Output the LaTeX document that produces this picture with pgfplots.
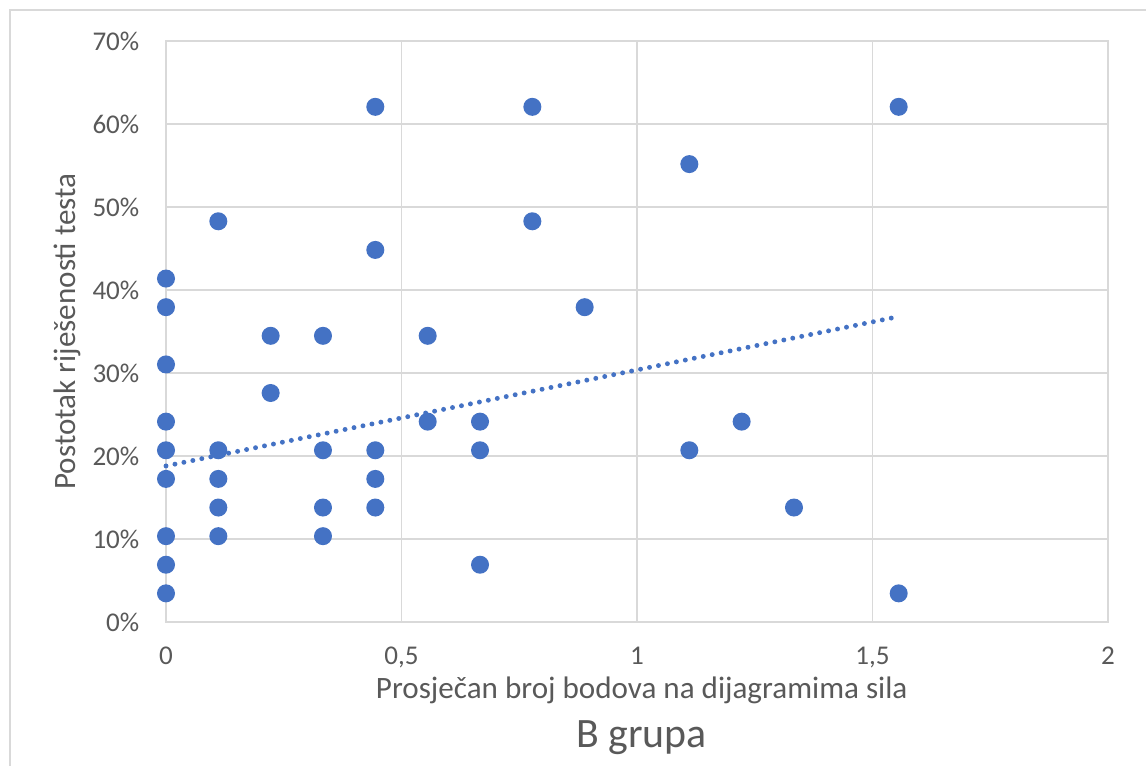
\documentclass[border=0pt]{standalone}
\usepackage{pgfplots}
\pgfplotsset{compat=1.18}
\usepackage{pgfplotstable}
\usepackage{fontspec}
\setmainfont{Carlito}
\definecolor{dotblue}{HTML}{4472C4}
\definecolor{gridgray}{HTML}{D9D9D9}
\definecolor{textgray}{HTML}{595959}

% x = average points on force diagrams, y = test score in %
\pgfplotstableread{
x       y
0       41.38
0       37.93
0       31.03
0       24.14
0       20.69
0       17.24
0       10.34
0       6.90
0       3.45
0.1111  48.28
0.1111  20.69
0.1111  17.24
0.1111  13.79
0.1111  10.34
0.2222  34.48
0.2222  27.59
0.3333  34.48
0.3333  20.69
0.3333  13.79
0.3333  10.34
0.4444  62.07
0.4444  44.83
0.4444  20.69
0.4444  17.24
0.4444  13.79
0.5556  34.48
0.5556  24.14
0.6667  24.14
0.6667  20.69
0.6667  6.90
0.7778  62.07
0.7778  48.28
0.8889  37.93
1.1111  55.17
1.1111  20.69
1.2222  24.14
1.3333  13.79
1.5556  62.07
1.5556  3.45
}\groupB

\begin{document}
\begin{tikzpicture}
\useasboundingbox (-1.66,-1.44) rectangle (9.80,6.22);
\draw[gridgray, line width=0.6pt] (-1.56,-1.6) -- (-1.56,6.12) -- (9.95,6.12);
\begin{axis}[
  at={(0,0)}, anchor=south west,
  scale only axis,
  width=9.42cm, height=5.81cm,
  xmin=0, xmax=2, ymin=0, ymax=70,
  xtick={0,0.5,1,1.5,2},
  ytick={0,10,...,70},
  major tick length=0pt,
  grid=major,
  grid style={gridgray, line width=0.5pt},
  axis line style={gridgray, line width=0.5pt},
  clip=false,
  /pgf/number format/assume math mode=true,
  /pgf/number format/use comma,
  yticklabel={\pgfmathprintnumber{\tick}\%},
  ticklabel style={font=\fontsize{7.7pt}{9pt}\selectfont, text=textgray, inner sep=0pt},
  xticklabel style={anchor=north, yshift=-0.24cm},
  yticklabel style={anchor=east, xshift=-0.26cm},
  label style={font=\fontsize{8.85pt}{10pt}\selectfont, text=textgray},
  xlabel={Prosječan broj bodova na dijagramima sila},
  ylabel={Postotak riješenosti testa},
  xlabel style={at={(axis description cs:0.505,-0.117)}, anchor=center},
  ylabel style={at={(axis description cs:-0.1051,0.5)}, anchor=center},
  title={B grupa},
  title style={at={(axis description cs:0.505,-0.1997)}, anchor=center, yshift=-6pt,
    font=\fontsize{11.9pt}{14pt}\selectfont, text=textgray},
]
\addplot[only marks, mark=*, mark size=2.36pt,
  mark options={draw=dotblue, fill=dotblue}] table[x=x, y=y] {\groupB};
\addplot[dotblue, line width=1.4pt, line cap=round,
  dash pattern=on 0pt off 2.6pt] coordinates {(0,18.8) (1.5556,36.8)};
\end{axis}
\end{tikzpicture}
\end{document}
